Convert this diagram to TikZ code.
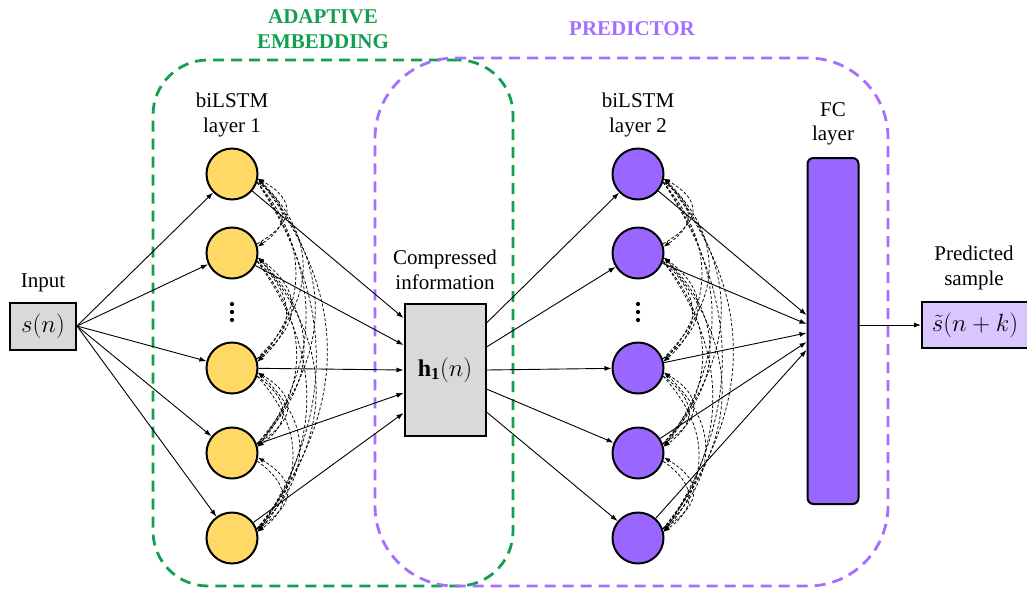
\documentclass[tikz,border=0pt]{standalone}
\usepackage{fontspec}
\setmainfont{Liberation Serif}
\usetikzlibrary{arrows.meta,calc}
\definecolor{ylw}{HTML}{FFD966}
\definecolor{pur}{HTML}{9966FF}
\definecolor{purdash}{HTML}{A46EFF}
\definecolor{grn}{HTML}{12A050}
\definecolor{lgray}{HTML}{D9D9D9}
\definecolor{lpur}{HTML}{D9C6FF}
\begin{document}
\begin{tikzpicture}[x=1pt,y=-1pt,
  lbl/.style={font=\fontsize{21}{24.5}\selectfont, align=center, inner sep=0pt},
  ttl/.style={font=\fontsize{21}{25}\selectfont\bfseries, align=center, inner sep=0pt},
  ycirc/.style={circle, draw, line width=2pt, fill=ylw, minimum size=51pt, inner sep=0pt},
  pcirc/.style={circle, draw, line width=2pt, fill=pur, minimum size=51pt, inner sep=0pt},
  mbox/.style={draw, line width=2pt, font=\fontsize{24}{28}\selectfont, inner sep=0pt},
  conn/.style={-{Latex[length=7pt,width=5pt]}, line width=0.9pt},
  dsh/.style={dash pattern=on 3pt off 2pt, line width=0.75pt, -{Latex[length=6pt,width=4.5pt]}},
  frame/.style={dash pattern=on 11pt off 7pt, line width=2.8pt, inner sep=0pt},
  dotn/.style={circle, fill, inner sep=0pt, minimum size=4.2pt}]
\useasboundingbox (0,0) rectangle (1027,590);

% region frames
\node[frame, draw=grn, rounded corners=55pt, minimum width=360pt, minimum height=526pt] (AE) at (333,323) {};
\node[frame, draw=purdash, rounded corners=80pt, minimum width=513pt, minimum height=528pt] (PR) at (631.5,322) {};

% titles
\node[ttl, text=grn] (AEt) at (323,29) {ADAPTIVE\\EMBEDDING};
\node[ttl, text=purdash] (PRt) at (632,29) {PREDICTOR};

% labels
\node[lbl] (inl) at (43,283) {Input};
\node[lbl] (l1) at (232,115) {biLSTM\\layer 1};
\node[lbl] (cl) at (445,270) {Compressed\\information};
\node[lbl] (l2) at (638,115) {biLSTM\\layer 2};
\node[lbl] (fcl) at (833,124) {FC\\layer};
\node[lbl] (ol) at (974,268) {Predicted\\sample};

% boxes
\node[mbox, fill=lgray, minimum width=66pt, minimum height=47pt] (I) at (43,326) {$s(n)$};
\node[mbox, fill=lgray, minimum width=81pt, minimum height=132pt] (C) at (445,370) {$\mathbf{h}_{\mathbf{1}}(n)$};
\node[mbox, fill=pur, rounded corners=6pt, minimum width=51pt, minimum height=346pt] (FC) at (833,331) {};
\node[mbox, fill=lpur, minimum width=106pt, minimum height=46pt, anchor=west] (O) at (921,325) {$\tilde{s}(n+k)$};

% neurons
\foreach \k/\yy in {1/174,2/253,3/368,4/453,5/538} {
  \node[ycirc] (Y\k) at (232,\yy) {};
  \node[pcirc] (P\k) at (638,\yy) {};
}
\foreach \k/\yy in {1/304,2/312,3/320} {
  \node[dotn] (yd\k) at (232,\yy) {};
  \node[dotn] (pd\k) at (638,\yy) {};
}

% connection points
\foreach \k/\dy in {1/-52,2/-25,3/0,4/23,5/43} {
  \coordinate (Ci\k) at ($(C.west)+(0,\dy)$);
}
\foreach \k/\dy in {1/-47,2/-23,3/0,4/19,5/42} {
  \coordinate (Co\k) at ($(C.east)+(0,\dy)$);
}
\foreach \k/\yy in {1/315,2/324,3/333,4/342,5/350} {
  \coordinate (Fi\k) at (FC.west |- 0,\yy);
}

% solid connectors
\foreach \k in {1,...,5} {
  \draw[conn] (I.east) -- (Y\k);
  \draw[conn] (Y\k) -- (Ci\k);
  \draw[conn] (Co\k) -- (P\k);
  \draw[conn] (P\k) -- (Fi\k);
}
\draw[conn] (FC.east |- O.west) -- (O.west);

% recurrent dashed connectors
\foreach \L in {Y,P} {
  \foreach \i/\j in {1/2,1/3,1/4,1/5,2/3,2/4,2/5,3/4,3/5,4/5} {
    \draw[dsh] let \p1=(\L\i.-18), \p2=(\L\j.14), \n1={\y1-\y2}, \n2={22pt+0.16*\n1} in
      (\p1) .. controls +(\n2,-\n1/3) and +(\n2,\n1/3) .. (\p2);
    \draw[dsh] let \p1=(\L\i.-10), \p2=(\L\j.20), \n1={\y1-\y2}, \n2={26pt+0.19*\n1} in
      (\p2) .. controls +(\n2,\n1/3) and +(\n2,-\n1/3) .. (\p1);
  }
}
\end{tikzpicture}
\end{document}
